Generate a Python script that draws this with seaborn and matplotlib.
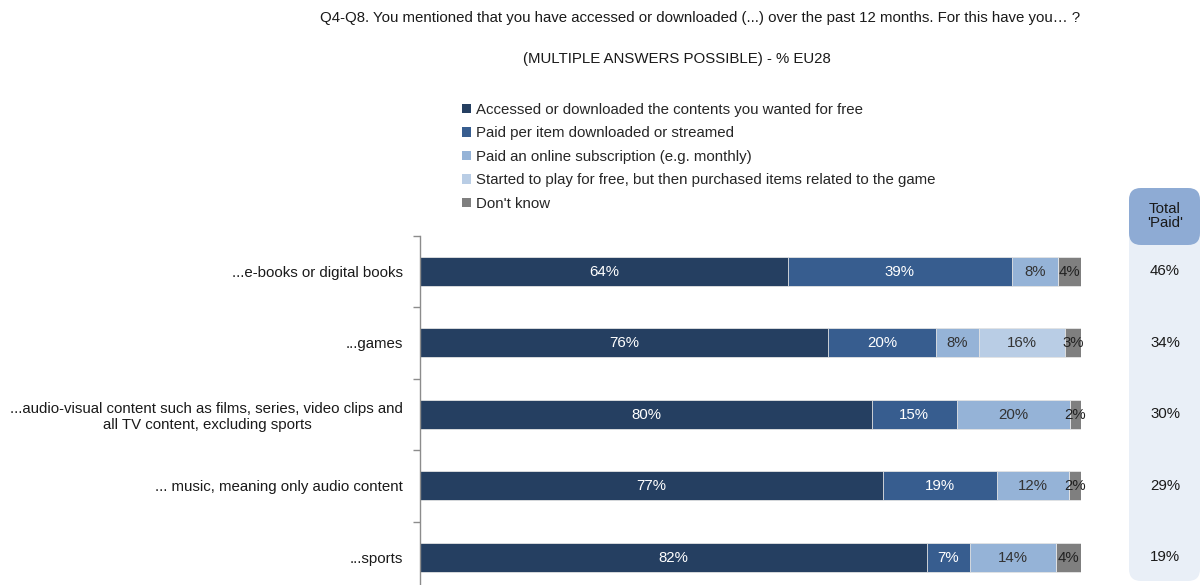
import numpy as np
import pandas as pd
import seaborn as sns
import matplotlib
matplotlib.use("Agg")
import matplotlib.pyplot as plt
from matplotlib.patches import Patch, FancyBboxPatch
from matplotlib.transforms import blended_transform_factory

# --- data -------------------------------------------------------------
categories = [
    "...e-books or digital books",
    "...games",
    "...audio-visual content such as films, series, video clips and\nall TV content, excluding sports",
    "... music, meaning only audio content",
    "...sports",
]
series_names = [
    "Accessed or downloaded the contents you wanted for free",
    "Paid per item downloaded or streamed",
    "Paid an online subscription (e.g. monthly)",
    "Started to play for free, but then purchased items related to the game",
    "Don't know",
]
free_access = [64, 76, 80, 77, 82]
paid_per_item = [39, 20, 15, 19, 7]
paid_subscription = [8, 8, 20, 12, 14]
in_game_purchase = [0, 16, 0, 0, 0]
dont_know = [4, 3, 2, 2, 4]
total_paid = [46, 34, 30, 29, 19]

colors = ["#253f61", "#375d8f", "#95b3d7", "#b9cde5", "#7f7f7f"]
label_colors = ["white", "white", "#333333", "#333333", "#222222"]

FS = 10.8

# --- figure -------------------------------------------------------------
sns.set_theme(style="white")
plt.rcParams["font.family"] = ["Liberation Sans", "DejaVu Sans"]

W, H, DPI = 1201, 585, 100
fig = plt.figure(figsize=(W / DPI, H / DPI), dpi=DPI)
ax = fig.add_axes([420 / W, 0, 661 / W, (585 - 235.5) / H])
ax.set_zorder(3)
ax.patch.set_alpha(0)

values = np.array([free_access, paid_per_item, paid_subscription,
                   in_game_purchase, dont_know], dtype=float)
shares = values / values.sum(axis=0) * 100  # each bar spans the full width
cum = np.cumsum(shares, axis=0)

df = pd.DataFrame({"category": categories})
# stacked bars: draw cumulative totals from the outermost layer inwards
for i in range(len(series_names) - 1, -1, -1):
    df["x"] = cum[i]
    sns.barplot(data=df, x="x", y="category", orient="h", color=colors[i],
                width=0.41, saturation=1, ax=ax, edgecolor="#e6e6e6",
                linewidth=0.6)

# segment labels
for i in range(len(series_names)):
    for j in range(len(categories)):
        if values[i, j] <= 0:
            continue
        left = cum[i, j] - shares[i, j]
        ax.text(left + shares[i, j] / 2, j + 0.01, f"{int(values[i, j])}%",
                ha="center", va="center", fontsize=FS,
                color=label_colors[i])

ax.set_xlabel("")
ax.set_ylabel("")
ax.set_xticks([])
for s in ["top", "right", "bottom"]:
    ax.spines[s].set_visible(False)
ax.spines["left"].set_color("#8c8c8c")
ax.spines["left"].set_linewidth(1.0)
ax.set_yticks(range(len(categories)))
ax.set_yticklabels(categories, fontsize=FS, color="#1a1a1a", ha="right",
                   multialignment="center")
ax.tick_params(axis="y", which="major", length=0, pad=12)
ax.set_yticks(np.arange(-0.5, len(categories), 1.0), minor=True)
ax.tick_params(axis="y", which="minor", length=5, color="#8c8c8c", width=1.0,
               left=True, direction="out")
ax.set_xlim(0, 100)
ax.set_ylim(4.388, -0.5)

# titles
fig.text(700 / W, 1 - 18 / H,
         "Q4-Q8. You mentioned that you have accessed or downloaded (...) over "
         "the past 12 months. For this have you… ?",
         ha="center", va="center", fontsize=FS, color="#1a1a1a")
fig.text(677 / W, 1 - 59 / H, "(MULTIPLE ANSWERS POSSIBLE) - % EU28",
         ha="center", va="center", fontsize=FS, color="#1a1a1a")

# legend
handles = [Patch(facecolor=c, edgecolor="none") for c in colors]
fig.legend(handles, series_names, loc="upper left",
           bbox_to_anchor=(462 / W, 1 - 103 / H), frameon=False,
           fontsize=FS, handlelength=0.6, handleheight=0.6,
           handletextpad=0.35, labelspacing=0.63, borderaxespad=0,
           borderpad=0)

# "Total 'Paid'" column
box = FancyBboxPatch((11.29, 0.04), 0.71, 3.93,
                     boxstyle="round,pad=0,rounding_size=0.12",
                     transform=fig.dpi_scale_trans, facecolor="#e9eff7",
                     edgecolor="none", zorder=0)
head = FancyBboxPatch((11.29, 3.40), 0.71, 0.57,
                      boxstyle="round,pad=0,rounding_size=0.12",
                      transform=fig.dpi_scale_trans, facecolor="#8eabd4",
                      edgecolor="none", zorder=1)
fig.patches.extend([box, head])
fig.text(1165 / W, 1 - 216 / H, "Total\n'Paid'", ha="center", va="center",
         fontsize=FS, color="#1a1a1a", linespacing=1.0, zorder=5)

trans = blended_transform_factory(fig.transFigure, ax.transData)
for j, v in enumerate(total_paid):
    ax.text(1165 / W, j, f"{v}%", transform=trans, ha="center", va="center",
            fontsize=FS, color="#1a1a1a", clip_on=False)

fig.savefig("out.png", dpi=DPI)
